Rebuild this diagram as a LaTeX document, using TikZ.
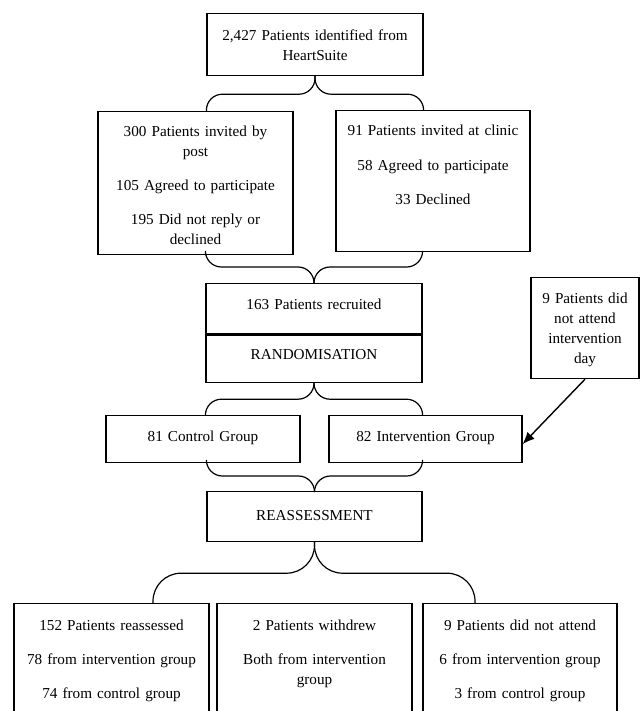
\documentclass[tikz,border=0pt]{standalone}
\usepackage{fontspec}
\setmainfont{Liberation Serif}
\usetikzlibrary{arrows.meta}
\tikzset{>={Latex[width=10pt,length=12pt]}}
\tikzset{
  flowbox/.style={draw, line width=1.2pt, align=center, anchor=north,
    inner xsep=0pt, inner ysep=0pt},
  brace/.style={line width=1.2pt, rounded corners=16pt}
}

\begin{document}
\begin{tikzpicture}[x=1pt,y=-1pt,font=\fontsize{15.2}{20}\selectfont]

  \useasboundingbox (0,0) rectangle (643,711);

  \node[flowbox, text width=216pt, text height=27pt, text depth=35pt]
    (ident) at (315,13) {2,427 Patients identified from\\HeartSuite};

  \node[flowbox, text width=195pt, text height=25pt, text depth=118pt]
    (post) at (195.5,111) {300 Patients invited by\\post\\[14pt]105 Agreed to participate\\[14pt]195 Did not reply or\\declined};
  \node[flowbox, text width=194pt, text height=25pt, text depth=116pt]
    (clinic) at (433,110) {91 Patients invited at clinic\\[15pt]58 Agreed to participate\\[14pt]33 Declined};

  \node[flowbox, text width=216pt, text height=26pt, text depth=24pt]
    (recruit) at (314,283) {163 Patients recruited};
  \node[flowbox, text width=216pt, text height=26pt, text depth=23pt]
    (random) at (314,333) {RANDOMISATION};
  \draw[line width=2.8pt] (recruit.south west) -- (recruit.south east);

  \node[flowbox, text width=108pt, text height=26pt, text depth=75pt]
    (noshow) at (585,277) {9 Patients did\\not attend\\intervention\\day};

  \node[flowbox, text width=194pt, text height=26pt, text depth=21pt]
    (control) at (203,415) {81 Control Group};
  \node[flowbox, text width=193pt, text height=26pt, text depth=21pt]
    (interv) at (425.5,415) {82 Intervention Group};

  \node[flowbox, text width=215pt, text height=29pt, text depth=21pt]
    (reassess) at (314.5,491) {REASSESSMENT};

  \node[flowbox, text width=195pt, text height=27pt, text depth=120pt]
    (reass) at (111.5,603) {152 Patients reassessed\\[14pt]78 from intervention group\\[14pt]74 from control group};
  \node[flowbox, text width=195pt, text height=27pt, text depth=120pt]
    (withdrew) at (314.5,603) {2 Patients withdrew\\[14pt]Both from intervention\\group};
  \node[flowbox, text width=194pt, text height=27pt, text depth=120pt]
    (absent) at (520,603) {9 Patients did not attend\\[14pt]6 from intervention group\\[14pt]3 from control group};

  \draw[brace] (ident.south) -- ++(0,18) -| (ident.south west |- post.north); %% ident -> post
  \draw[brace] (ident.south) -- ++(0,18) -| (ident.south east |- clinic.north); %% ident -> clinic

  \draw[brace] (recruit.north) -- ++(0,-16) -| (recruit.north west |- post.south);
  \draw[brace] (recruit.north) -- ++(0,-16) -| (recruit.north east |- clinic.south);

  \draw[brace] (random.south) -- ++(0,16) -| (random.south west |- control.north);
  \draw[brace] (random.south) -- ++(0,16) -| (random.south east |- interv.north);

  \draw[brace] (reassess.north) -- ++(0,-15) -| (reassess.north west |- control.south);
  \draw[brace] (reassess.north) -- ++(0,-15) -| (reassess.north east |- interv.south);

  \coordinate (armL) at (153,603);
  \coordinate (armR) at (475,603);
  \draw[brace, rounded corners=28pt] (reassess.south) -- ++(0,31) -| (armL);
  \draw[brace, rounded corners=28pt] (reassess.south) -- ++(0,31) -| (armR);

  \draw[->, line width=1.4pt] (noshow.south) -- ([yshift=-5pt]interv.east); %% noshow -> interv

\end{tikzpicture}
\end{document}
